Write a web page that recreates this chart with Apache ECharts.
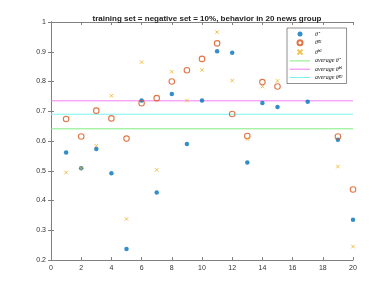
<!DOCTYPE html>
<html><head><meta charset="utf-8">
<script src="https://cdn.jsdelivr.net/npm/echarts@6/dist/echarts.min.js"></script>
<style>html,body{margin:0;padding:0;background:#fff}#c{width:390px;height:293px}</style>
</head><body><div id="c"></div>
<script>
const xs = [1,2,3,4,5,6,7,8,9,10,11,12,13,14,15,16,17,18,19,20];
const theta = [0.561,0.508,0.573,0.492,0.237,0.736,0.427,0.758,0.590,0.736,0.902,0.897,0.528,0.728,0.714,null,0.732,null,0.604,0.335];
const thetaK1 = [0.674,0.615,0.702,0.676,0.608,0.727,0.744,0.800,0.838,0.876,0.928,0.691,0.617,0.798,0.783,null,null,null,0.615,0.437];
const thetaK2 = [0.494,0.508,0.584,0.752,0.338,0.865,0.503,0.833,0.736,0.839,0.966,0.803,0.607,0.783,0.802,null,null,null,0.514,0.245];
const avgTheta = 0.641, avgK1 = 0.735, avgK2 = 0.690;
const xTicks = [0,20,2];
const yTicks = [0.2,1,0.1];
const titleText = 'training set = negative set = 10%, behavior in 20 news group';

const pts = a => xs.map((x,i)=>[x,a[i]]).filter(p=>p[1]!==null);
const hline = v => [[xTicks[0],v],[xTicks[1],v]];
const labels = {
  theta: '{t|θ̂}',
  k1: '{t|θ̂}{s|k1}',
  k2: '{t|θ̂}{s|k2}',
  avg: '{t|average θ̂}',
  avgk1: '{t|average θ̂}{s|k1}',
  avgk2: '{t|average θ̂}{s|k2}'
};
const lineIcon = 'path://M0,0L20,0L20,1L0,1Z';
const axCommon = {
  axisLine:{show:true,lineStyle:{color:'#808080',width:1}},
  axisTick:{show:true,inside:true,length:3,lineStyle:{color:'#808080'}},
  splitLine:{show:false}
};
const chart = echarts.init(document.getElementById('c'));
chart.setOption({
  animation:false,
  backgroundColor:'#fff',
  title:{text:titleText,left:202,top:10,textAlign:'center',
    textStyle:{fontFamily:'Liberation Sans',fontSize:8,fontWeight:'bold',color:'#222'}},
  grid:{left:51,right:37,top:22,bottom:33},
  xAxis:[
    Object.assign({type:'value',min:xTicks[0],max:xTicks[1],interval:xTicks[2],position:'bottom',
      axisLabel:{fontFamily:'Liberation Sans',fontSize:7,color:'#333',margin:5}},axCommon),
    Object.assign({type:'value',min:xTicks[0],max:xTicks[1],interval:xTicks[2],position:'top',
      axisLabel:{show:false}},axCommon)
  ],
  yAxis:[
    Object.assign({type:'value',min:yTicks[0],max:yTicks[1],interval:yTicks[2],position:'left',
      axisLabel:{fontFamily:'Liberation Sans',fontSize:7,color:'#333',margin:5,
        formatter:v=>String(Math.round(v*10)/10)}},axCommon),
    Object.assign({type:'value',min:yTicks[0],max:yTicks[1],interval:yTicks[2],position:'right',
      axisLabel:{show:false}},axCommon)
  ],
  legend:{
    orient:'vertical',left:287,top:28,padding:[3,4,3,3],itemGap:2.3,itemWidth:20,itemHeight:5,
    borderColor:'#444',borderWidth:0.6,backgroundColor:'#fff',
    data:[
      {name:'theta'},{name:'k1'},{name:'k2'},
      {name:'avg',icon:lineIcon},{name:'avgk1',icon:lineIcon},{name:'avgk2',icon:lineIcon}
    ],
    formatter:n=>labels[n],
    textStyle:{rich:{
      t:{fontFamily:'Liberation Serif',fontStyle:'italic',fontSize:6,lineHeight:6,color:'#111'},
      s:{fontFamily:'Liberation Serif',fontStyle:'italic',fontSize:4,lineHeight:6,color:'#111',verticalAlign:'top'}
    }}
  },
  series:[
    {name:'avg',type:'line',data:hline(avgTheta),symbol:'none',silent:true,lineStyle:{color:'#80EE80',width:1},itemStyle:{color:'#80EE80'},z:1},
    {name:'avgk1',type:'line',data:hline(avgK1),symbol:'none',silent:true,lineStyle:{color:'#F27CF2',width:1},itemStyle:{color:'#F27CF2'},z:1},
    {name:'avgk2',type:'line',data:hline(avgK2),symbol:'none',silent:true,lineStyle:{color:'#7CF2F2',width:1},itemStyle:{color:'#7CF2F2'},z:1},
    {name:'theta',type:'scatter',data:pts(theta),symbol:'circle',symbolSize:4.5,itemStyle:{color:'#0072BD'},z:3},
    {name:'k1',type:'scatter',data:pts(thetaK1),symbol:'circle',symbolSize:5.5,
      itemStyle:{color:'rgba(0,0,0,0)',borderColor:'#D95319',borderWidth:1.1},z:3},
    {name:'k2',type:'scatter',data:pts(thetaK2),symbol:'path://M0,0L10,10M10,0L0,10',symbolSize:3.5,
      itemStyle:{color:'rgba(0,0,0,0)',borderColor:'#EDB120',borderWidth:1},z:3}
  ]
});
</script></body></html>
